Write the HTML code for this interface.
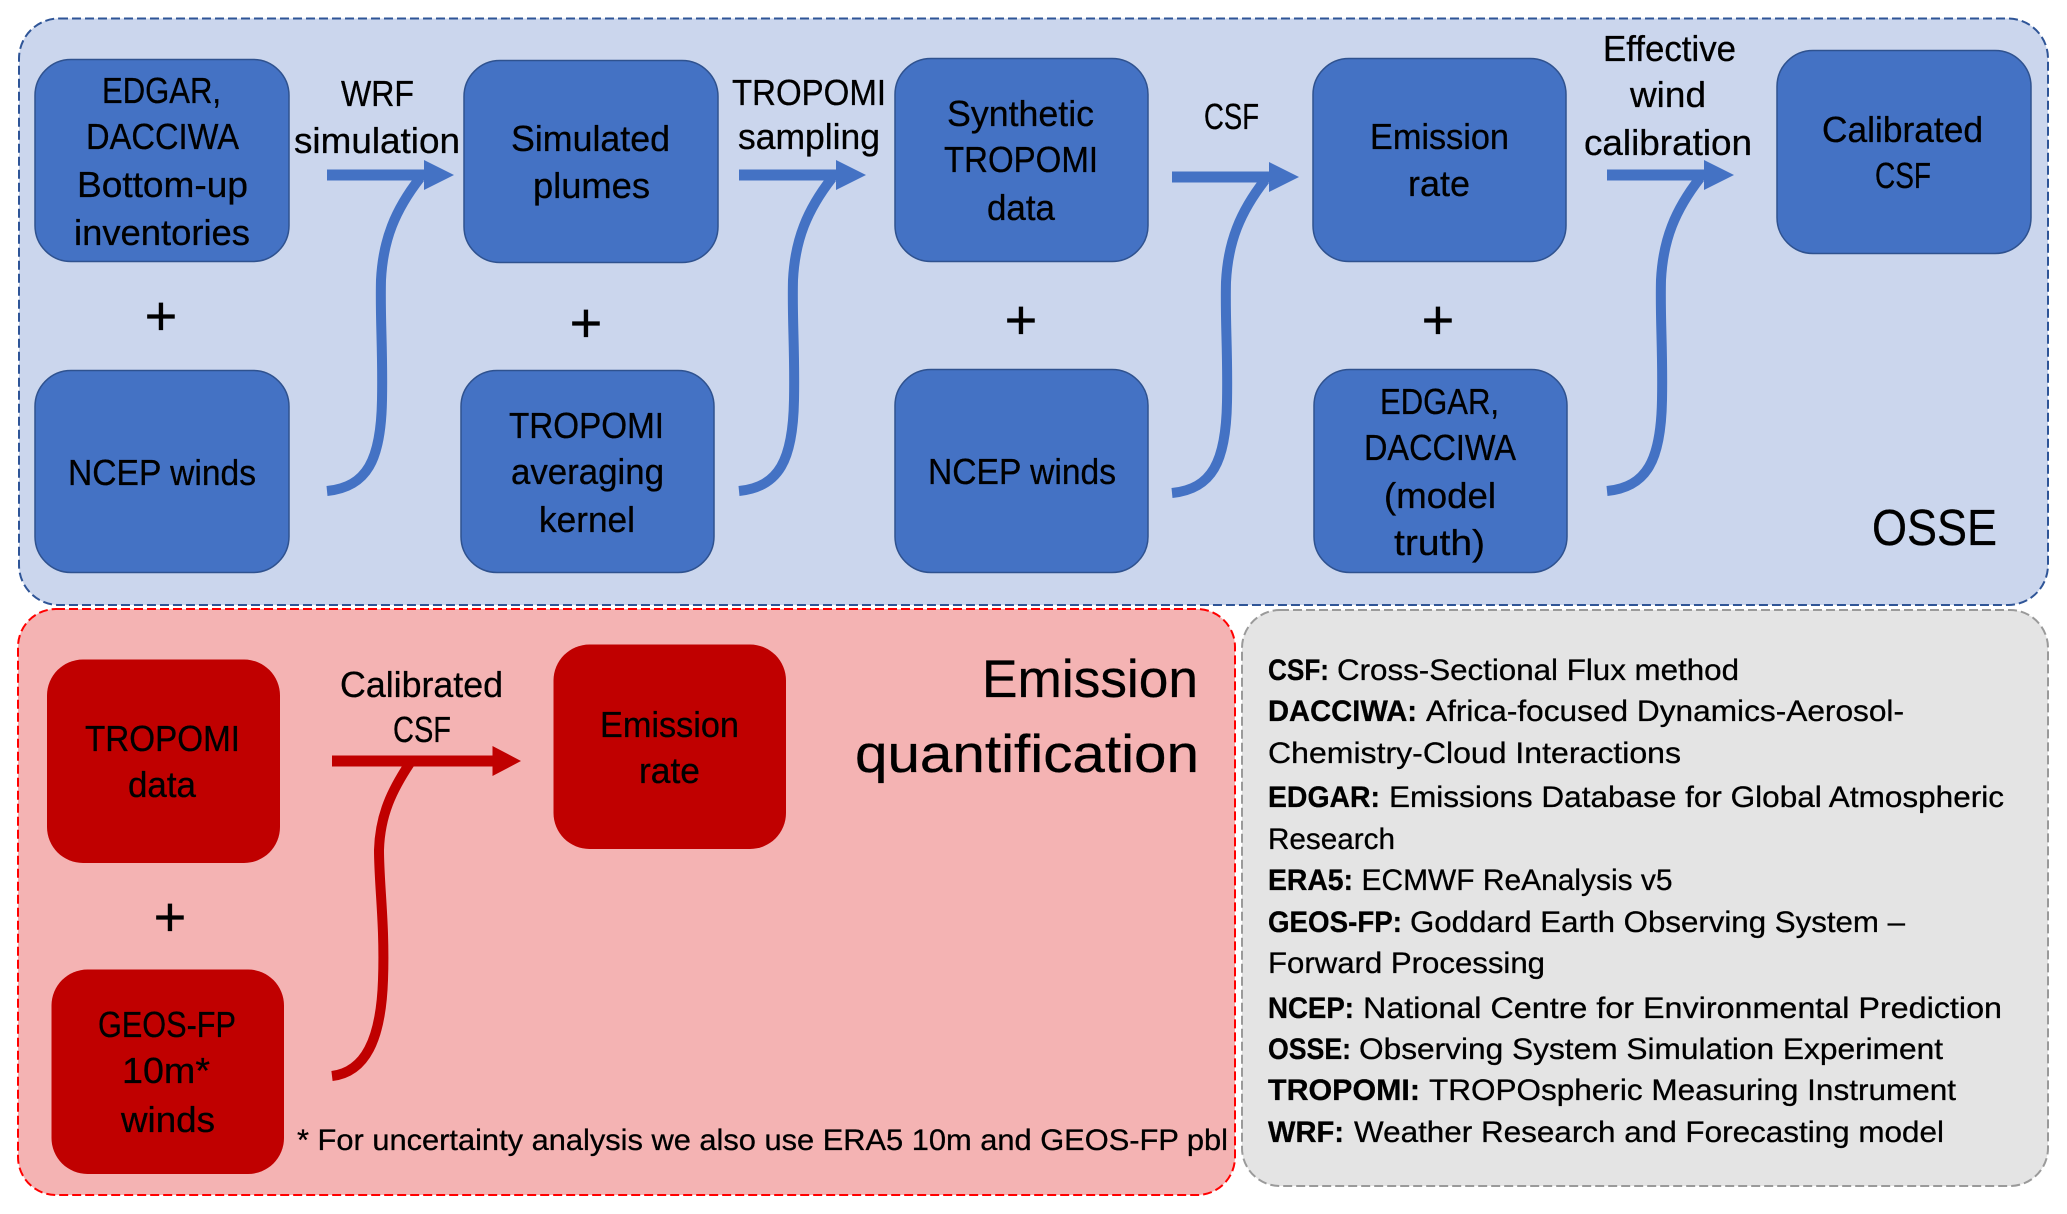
<!DOCTYPE html>
<html><head><meta charset="utf-8"><style>
html,body{margin:0;padding:0;background:#fff}
svg{display:block}
text{font-family:"Liberation Sans",sans-serif;fill:#000;stroke:#000;stroke-width:.3px}
.t{font-size:36px}.l{font-size:30px}.b{font-size:30px;font-weight:bold}
.p{font-size:56px;text-anchor:middle}
</style></head><body>
<svg width="2067" height="1214" viewBox="0 0 2067 1214" xmlns="http://www.w3.org/2000/svg">
<defs>
<g id="ar">
<path d="M0 491C40 487 54 460 55 400C56 350 53 320 54 280C56 240 68 210 93 178" fill="none" stroke="#4472C4" stroke-width="10"/>
<path d="M0 169.500H97V160L127 175L97 190V180.500H0Z" fill="#4472C4"/>
</g>
</defs>
<rect width="2067" height="1214" fill="#fff"/>
<rect x="19" y="18.500" width="2029" height="586.500" rx="40" fill="#CBD6ED" stroke="#2F5597" stroke-width="2" stroke-dasharray="9 4"/>
<rect x="18" y="609" width="1217" height="586" rx="38" fill="#F4B3B3" stroke="#F00" stroke-width="2" stroke-dasharray="9 4"/>
<rect x="1242" y="610" width="806" height="576" rx="38" fill="#E4E4E4" stroke="#9A9A9A" stroke-width="2" stroke-dasharray="9 4"/>

<g fill="#4472C4" stroke="#2F528F" stroke-width="1.500">
<rect x="35" y="59.500" width="254" height="202" rx="36"/>
<rect x="35" y="370.500" width="254" height="202" rx="36"/>
<rect x="464" y="60.500" width="254" height="202" rx="36"/>
<rect x="461" y="370.500" width="253" height="202" rx="36"/>
<rect x="895" y="58.500" width="253" height="203" rx="36"/>
<rect x="895" y="369.500" width="253" height="203" rx="36"/>
<rect x="1313" y="58.500" width="253" height="203" rx="36"/>
<rect x="1314" y="369.500" width="253" height="203" rx="36"/>
<rect x="1777" y="50.500" width="254" height="203" rx="36"/>
</g>
<g fill="#C00000">
<rect x="47" y="659.500" width="233" height="203.500" rx="36"/>
<rect x="51.500" y="969.500" width="232.500" height="204.500" rx="36"/>
<rect x="553.500" y="644.500" width="232.500" height="204.500" rx="36"/>
</g>

<use href="#ar" x="327"/><use href="#ar" x="739"/><use href="#ar" x="1172" y="2"/><use href="#ar" x="1607"/>
<path d="M332 1076C365 1072 381 1040 383 980C385 925 379 885 379 850C380 815 392 790 410 763" fill="none" stroke="#C00000" stroke-width="10"/>
<path d="M332 755.500H492.500V746L521 761L492.500 776V766.500H332Z" fill="#C00000"/>

<g class="t-group">
<text class="t" x="102" y="103" textLength="119" lengthAdjust="spacingAndGlyphs">EDGAR,</text>
<text class="t" x="86" y="149" textLength="153" lengthAdjust="spacingAndGlyphs">DACCIWA</text>
<text class="t" x="77" y="197" textLength="171" lengthAdjust="spacingAndGlyphs">Bottom-up</text>
<text class="t" x="74" y="245" textLength="176" lengthAdjust="spacingAndGlyphs">inventories</text>
<text class="t" x="68" y="485" textLength="188" lengthAdjust="spacingAndGlyphs">NCEP winds</text>
<text class="t" x="341" y="106" textLength="73" lengthAdjust="spacingAndGlyphs">WRF</text>
<text class="t" x="294" y="153" textLength="166" lengthAdjust="spacingAndGlyphs">simulation</text>
<text class="t" x="511" y="151" textLength="159" lengthAdjust="spacingAndGlyphs">Simulated</text>
<text class="t" x="533" y="198" textLength="117" lengthAdjust="spacingAndGlyphs">plumes</text>
<text class="t" x="509" y="438" textLength="155" lengthAdjust="spacingAndGlyphs">TROPOMI</text>
<text class="t" x="511" y="484" textLength="153" lengthAdjust="spacingAndGlyphs">averaging</text>
<text class="t" x="539" y="532" textLength="96" lengthAdjust="spacingAndGlyphs">kernel</text>
<text class="t" x="732" y="105" textLength="154" lengthAdjust="spacingAndGlyphs">TROPOMI</text>
<text class="t" x="738" y="149" textLength="142" lengthAdjust="spacingAndGlyphs">sampling</text>
<text class="t" x="947" y="126" textLength="147" lengthAdjust="spacingAndGlyphs">Synthetic</text>
<text class="t" x="944" y="172" textLength="154" lengthAdjust="spacingAndGlyphs">TROPOMI</text>
<text class="t" x="987" y="220" textLength="68" lengthAdjust="spacingAndGlyphs">data</text>
<text class="t" x="928" y="484" textLength="188" lengthAdjust="spacingAndGlyphs">NCEP winds</text>
<text class="t" x="1204" y="129" textLength="55" lengthAdjust="spacingAndGlyphs">CSF</text>
<text class="t" x="1370" y="149" textLength="139" lengthAdjust="spacingAndGlyphs">Emission</text>
<text class="t" x="1408" y="196" textLength="62" lengthAdjust="spacingAndGlyphs">rate</text>
<text class="t" x="1380" y="414" textLength="119" lengthAdjust="spacingAndGlyphs">EDGAR,</text>
<text class="t" x="1364" y="460" textLength="152" lengthAdjust="spacingAndGlyphs">DACCIWA</text>
<text class="t" x="1384" y="508" textLength="112" lengthAdjust="spacingAndGlyphs">(model</text>
<text class="t" x="1394" y="555" textLength="91" lengthAdjust="spacingAndGlyphs">truth)</text>
<text class="t" x="1603" y="61" textLength="133" lengthAdjust="spacingAndGlyphs">Effective</text>
<text class="t" x="1630" y="107" textLength="76" lengthAdjust="spacingAndGlyphs">wind</text>
<text class="t" x="1584" y="155" textLength="168" lengthAdjust="spacingAndGlyphs">calibration</text>
<text class="t" x="1822" y="142" textLength="161" lengthAdjust="spacingAndGlyphs">Calibrated</text>
<text class="t" x="1875" y="188" textLength="56" lengthAdjust="spacingAndGlyphs">CSF</text>
<text x="1872" y="545" font-size="51" textLength="125" lengthAdjust="spacingAndGlyphs">OSSE</text>

<text class="t" x="85" y="751" textLength="155" lengthAdjust="spacingAndGlyphs">TROPOMI</text>
<text class="t" x="128" y="797" textLength="68" lengthAdjust="spacingAndGlyphs">data</text>
<text class="t" x="340" y="697" textLength="163" lengthAdjust="spacingAndGlyphs">Calibrated</text>
<text class="t" x="393" y="742" textLength="58" lengthAdjust="spacingAndGlyphs">CSF</text>
<text class="t" x="600" y="737" textLength="139" lengthAdjust="spacingAndGlyphs">Emission</text>
<text class="t" x="639" y="783" textLength="61" lengthAdjust="spacingAndGlyphs">rate</text>
<text class="t" x="98" y="1037" textLength="138" lengthAdjust="spacingAndGlyphs">GEOS-FP</text>
<text class="t" x="122" y="1083" textLength="88" lengthAdjust="spacingAndGlyphs">10m*</text>
<text class="t" x="121" y="1132" textLength="94" lengthAdjust="spacingAndGlyphs">winds</text>
<text x="982" y="697" font-size="53" textLength="216" lengthAdjust="spacingAndGlyphs">Emission</text>
<text x="855" y="772" font-size="53" textLength="344" lengthAdjust="spacingAndGlyphs">quantification</text>
<text class="l" x="297" y="1150" textLength="931" lengthAdjust="spacingAndGlyphs">* For uncertainty analysis we also use ERA5 10m and GEOS-FP pbl</text>

<text class="p" x="161" y="335">+</text>
<text class="p" x="586" y="342">+</text>
<text class="p" x="1021" y="339">+</text>
<text class="p" x="1438" y="339">+</text>
<text class="p" x="170" y="936">+</text>

<text class="b" x="1268" y="680" textLength="61" lengthAdjust="spacingAndGlyphs">CSF:</text>
<text class="l" x="1337" y="680" textLength="402" lengthAdjust="spacingAndGlyphs">Cross-Sectional Flux method</text>
<text class="b" x="1268" y="721" textLength="149" lengthAdjust="spacingAndGlyphs">DACCIWA:</text>
<text class="l" x="1426" y="721" textLength="478" lengthAdjust="spacingAndGlyphs">Africa-focused Dynamics-Aerosol-</text>
<text class="l" x="1268" y="763" textLength="413" lengthAdjust="spacingAndGlyphs">Chemistry-Cloud Interactions</text>
<text class="b" x="1268" y="807" textLength="112" lengthAdjust="spacingAndGlyphs">EDGAR:</text>
<text class="l" x="1389" y="807" textLength="615" lengthAdjust="spacingAndGlyphs">Emissions Database for Global Atmospheric</text>
<text class="l" x="1268" y="849" textLength="127" lengthAdjust="spacingAndGlyphs">Research</text>
<text class="b" x="1268" y="890" textLength="85" lengthAdjust="spacingAndGlyphs">ERA5:</text>
<text class="l" x="1361.500" y="890" textLength="311" lengthAdjust="spacingAndGlyphs">ECMWF ReAnalysis v5</text>
<text class="b" x="1268" y="932" textLength="134" lengthAdjust="spacingAndGlyphs">GEOS-FP:</text>
<text class="l" x="1410" y="932" textLength="495" lengthAdjust="spacingAndGlyphs">Goddard Earth Observing System –</text>
<text class="l" x="1268" y="973" textLength="277" lengthAdjust="spacingAndGlyphs">Forward Processing</text>
<text class="b" x="1268" y="1018" textLength="86" lengthAdjust="spacingAndGlyphs">NCEP:</text>
<text class="l" x="1363" y="1018" textLength="639" lengthAdjust="spacingAndGlyphs">National Centre for Environmental Prediction</text>
<text class="b" x="1268" y="1059" textLength="83" lengthAdjust="spacingAndGlyphs">OSSE:</text>
<text class="l" x="1359" y="1059" textLength="584" lengthAdjust="spacingAndGlyphs">Observing System Simulation Experiment</text>
<text class="b" x="1268" y="1100" textLength="152" lengthAdjust="spacingAndGlyphs">TROPOMI:</text>
<text class="l" x="1429" y="1100" textLength="527" lengthAdjust="spacingAndGlyphs">TROPOspheric Measuring Instrument</text>
<text class="b" x="1268" y="1142" textLength="76" lengthAdjust="spacingAndGlyphs">WRF:</text>
<text class="l" x="1354" y="1142" textLength="590" lengthAdjust="spacingAndGlyphs">Weather Research and Forecasting model</text>
</g>
</svg>
</body></html>
